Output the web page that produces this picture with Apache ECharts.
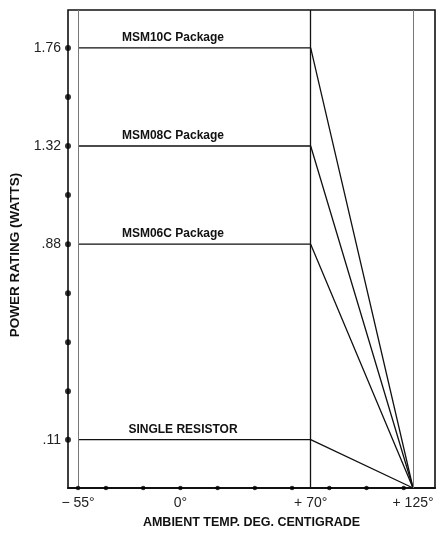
<!DOCTYPE html>
<html>
<head>
<meta charset="utf-8">
<script src="https://cdn.jsdelivr.net/npm/echarts@6/dist/echarts.min.js"></script>
<style>
html,body{margin:0;padding:0;background:#fff;}
#c{width:439px;height:534px;}
</style>
</head>
<body>
<div id="c"></div>
<script>
// ---- data ----
var temps = [-55, 70, 125];                 // derating breakpoints (deg C)
var msm10c = [1.76, 1.76, 0];               // watts
var msm08c = [1.32, 1.32, 0];
var msm06c = [0.88, 0.88, 0];
var single = [0.11, 0.11, 0];
var seriesNames = ['MSM10C Package', 'MSM08C Package', 'MSM06C Package', 'SINGLE RESISTOR'];
var xTickValues = [-55, 0, 70, 125];
var xTickLabels = ['\u2212 55\u00b0', '0\u00b0', '+ 70\u00b0', '+ 125\u00b0'];
var yTickValues = [0.11, 0.88, 1.32, 1.76];
var yTickLabels = ['.11', '.88', '1.32', '1.76'];
var yDots = [1.76, 1.54, 1.32, 1.10, 0.88, 0.66, 0.44, 0.22, 0.11];
var xDots = [-55, -40, -20, 0, 20, 40, 60, 80, 100, 120];
var refLines = [-55, 70, 125];

var XMIN = -60.4, XMAX = 136.8, YMAX = 1.93;
var FONT = '"Liberation Sans", Arial, Helvetica, sans-serif';

function pts(vals){ return temps.map(function(t,i){ return [t, vals[i]]; }); }

var allVals = [msm10c, msm08c, msm06c, single];
var series = allVals.map(function(v, i){
  return {
    type: 'line', name: seriesNames[i], data: pts(v), symbol: 'none',
    lineStyle: {color: '#111', width: 1.3}, z: 3, silent: true,
    markPoint: {
      symbol: 'circle', symbolSize: 0,
      data: [{coord: [i === 3 ? 1.4 : -4, v[0]], value: seriesNames[i]}],
      label: {show: true, position: 'top', distance: 4, color: '#111',
              fontFamily: FONT, fontWeight: 'bold', fontSize: 12,
              formatter: function(p){ return p.value; }}
    }
  };
});

series.push({
  type: 'line', data: [], symbol: 'none', silent: true,
  markLine: {
    symbol: 'none', silent: true, label: {show: false},
    data: refLines.map(function(x){
      return {xAxis: x, lineStyle: {color: x === 70 ? '#111' : '#777', width: x === 70 ? 1.3 : 1, type: 'solid'}};
    })
  }
});
series.push({
  type: 'scatter', data: yDots.map(function(y){ return [XMIN, y]; }),
  symbol: 'circle', symbolSize: 6, itemStyle: {color: '#000'}, clip: false, z: 5, silent: true
});
series.push({
  type: 'scatter', data: xDots.map(function(x){ return [x, 0]; }),
  symbol: 'circle', symbolSize: 4.5, itemStyle: {color: '#000'}, clip: false, z: 5, silent: true
});

var chart = echarts.init(document.getElementById('c'), null, {renderer: 'canvas'});
chart.setOption({
  animation: false,
  backgroundColor: '#fff',
  grid: {left: 68, right: 4, top: 10, bottom: 40, show: true, borderColor: '#111', borderWidth: 1.6},
  xAxis: {
    type: 'value', min: XMIN, max: XMAX,
    name: 'AMBIENT TEMP. DEG. CENTIGRADE', nameLocation: 'middle', nameGap: 28,
    nameTextStyle: {fontFamily: FONT, fontWeight: 'bold', fontSize: 12.5, color: '#111'},
    axisLine: {show: true, onZero: false, lineStyle: {color: '#111', width: 2}},
    axisTick: {show: false},
    splitLine: {show: false},
    axisLabel: {
      customValues: xTickValues, margin: 8, color: '#222', fontFamily: FONT, fontSize: 14,
      formatter: function(v){ var k = xTickValues.indexOf(v); return k >= 0 ? xTickLabels[k] : ''; }
    }
  },
  yAxis: {
    type: 'value', min: 0, max: YMAX,
    breaks: [{start: 0.22, end: YMAX, gap: 0.8675}],
    breakArea: {show: false, expandOnClick: false},
    name: 'POWER RATING (WATTS)', nameLocation: 'middle', nameGap: 46, nameRotate: 90,
    nameTextStyle: {fontFamily: FONT, fontWeight: 'bold', fontSize: 13.5, color: '#111', padding: [0, 12, 0, 0]},
    axisLine: {show: false, onZero: false},
    axisTick: {show: false},
    splitLine: {show: false},
    axisLabel: {
      customValues: yTickValues, margin: 7, color: '#222', fontFamily: FONT, fontSize: 14,
      formatter: function(v){ var k = yTickValues.indexOf(v); return k >= 0 ? yTickLabels[k] : ''; }
    }
  },
  series: series
});
</script>
</body>
</html>
